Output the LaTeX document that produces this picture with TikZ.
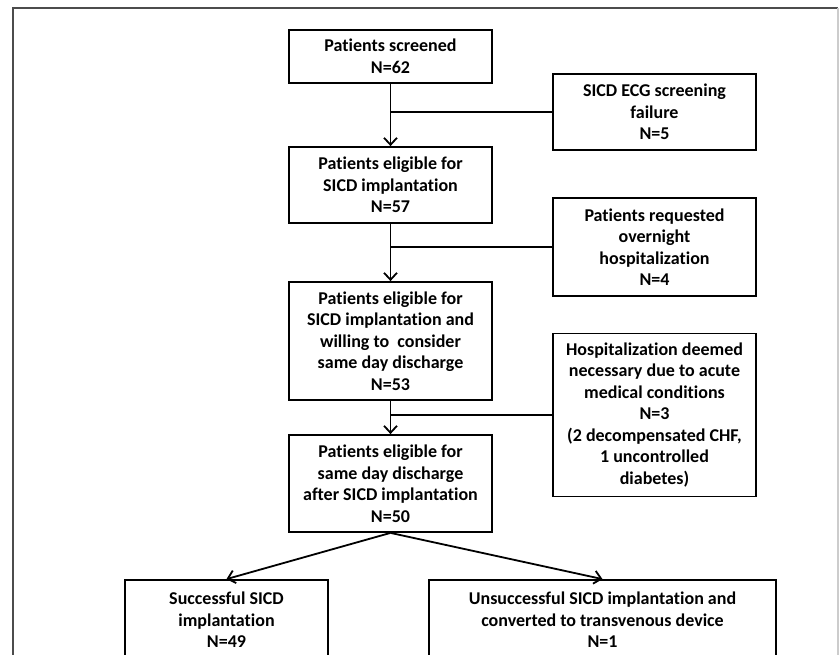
\documentclass[tikz,border=0pt]{standalone}
\usepackage{fontspec}
\setmainfont{Carlito}[Ligatures=NoCommon]
\usetikzlibrary{arrows.meta}
\begin{document}
\begin{tikzpicture}[x=1pt,y=-1pt,
  box/.style={draw=black, line width=1.8pt, align=center, inner sep=0pt,
    font=\bfseries\fontsize{18}{21.5}\selectfont},
  link/.style={draw=black, line width=1.8pt},
  arr/.style={link, -{Straight Barb[length=7pt,width=13pt,line width=1.8pt]}}]
\useasboundingbox (0,0) rectangle (840,655);
\clip (0,0) rectangle (840,655);
% outer frame
\draw[gray!60!black, line width=1.6pt] (13,660) -- (13,8) -- (838,8);
\draw[gray!40, line width=1.2pt] (838,8) -- (838,660);
% main column
\node[box, minimum width=203pt, minimum height=53pt] (b1) at (390.5,56.5) {Patients screened\\N=62};
\node[box, minimum width=203pt, minimum height=76pt] (b2) at (390.5,185) {Patients eligible for\\SICD implantation\\N=57};
\node[box, minimum width=203pt, minimum height=118pt] (b3) at (390.5,341) {Patients eligible for\\SICD implantation and\\willing to\ \ consider\\same day discharge\\N=53};
\node[box, minimum width=203pt, minimum height=97pt] (b4) at (390.5,483.5) {Patients eligible for\\same day discharge\\after SICD implantation\\N=50};
% exclusions
\node[box, minimum width=203pt, minimum height=76pt] (r1) at (654.5,112) {SICD ECG screening\\failure\\N=5};
\node[box, minimum width=203pt, minimum height=98pt] (r2) at (654.5,247) {Patients requested\\overnight\\hospitalization\\N=4};
\node[box, minimum width=203pt, minimum height=163pt] (r3) at (654.5,415) {Hospitalization deemed\\necessary due to acute\\medical conditions\\N=3\\(2 decompensated CHF,\\1 uncontrolled\\diabetes)};
% outcomes
\node[box, minimum width=203pt, minimum height=80pt] (s) at (226.5,620) {Successful SICD\\implantation\\N=49};
\node[box, minimum width=347pt, minimum height=80pt] (u) at (602.5,620) {Unsuccessful SICD implantation and\\converted to transvenous device\\N=1};
% connectors
\draw[arr] (b1.south) -- (b2.north);
\draw[arr] (b2.south) -- (b3.north);
\draw[arr] (b3.south) -- (b4.north);
\draw[link] (r1.west) -- (r1.west -| b1.south);
\draw[link] (r2.west) -- (r2.west -| b2.south);
\draw[link] (r3.west) -- (r3.west -| b3.south);
\draw[arr] (b4.south) -- (s.north);
\draw[arr] (b4.south) -- (u.north);
\end{tikzpicture}
\end{document}
